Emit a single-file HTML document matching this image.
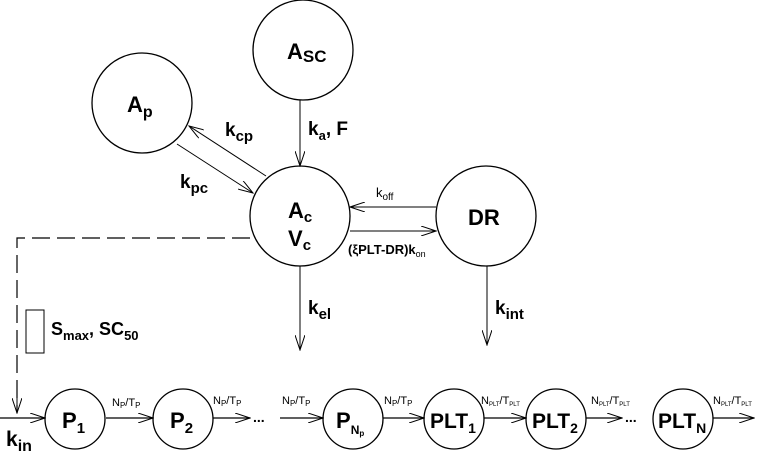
<!DOCTYPE html>
<html><head><style>
html,body{margin:0;padding:0;background:#fff;}
svg{display:block;font-family:"Liberation Sans",Arial,sans-serif;font-weight:bold;}
</style></head><body>
<svg width="761" height="456" viewBox="0 0 761 456" xmlns="http://www.w3.org/2000/svg">
<defs>
<marker id="a" markerWidth="16" markerHeight="10" refX="15" refY="5" orient="auto" markerUnits="userSpaceOnUse">
<path d="M0,0 L15,5 L0,10" fill="none" stroke="#000" stroke-width="1"/>
</marker>
</defs>
<g fill="none" stroke="#000" stroke-width="1.3">
<circle cx="303" cy="50" r="50"/>
<circle cx="142" cy="103" r="50"/>
<circle cx="300" cy="216" r="50"/>
<circle cx="486" cy="216" r="50"/>
<circle cx="75" cy="419" r="30"/>
<circle cx="183" cy="419" r="30"/>
<circle cx="353" cy="419" r="30"/>
<circle cx="454" cy="419" r="30"/>
<circle cx="556" cy="419" r="30"/>
<circle cx="683" cy="419" r="30"/>
<rect x="26" y="310" width="18" height="43" stroke-width="1"/>
</g>
<g stroke="#000" stroke-width="1" fill="none">
<line x1="300" y1="100" x2="300" y2="166" marker-end="url(#a)"/>
<line x1="266" y1="176" x2="189" y2="126" marker-end="url(#a)"/>
<line x1="177" y1="144" x2="253" y2="193" marker-end="url(#a)"/>
<line x1="436" y1="207" x2="350" y2="207" marker-end="url(#a)"/>
<line x1="350" y1="231" x2="436" y2="231" marker-end="url(#a)"/>
<line x1="300" y1="266" x2="300" y2="350" marker-end="url(#a)"/>
<line x1="487" y1="266" x2="487" y2="345" marker-end="url(#a)"/>
<polyline points="250,238 17,238 17,413" stroke-dasharray="18,7" stroke-width="1.2"/>
<line x1="17" y1="395" x2="17" y2="413" marker-end="url(#a)"/>
<line x1="0" y1="418" x2="45" y2="418" marker-end="url(#a)" stroke-width="1.3"/>
<line x1="106" y1="418" x2="153" y2="418" marker-end="url(#a)" stroke-width="1.3"/>
<line x1="213" y1="418" x2="250" y2="418" marker-end="url(#a)" stroke-width="1.3"/>
<line x1="280" y1="418" x2="323" y2="418" marker-end="url(#a)" stroke-width="1.3"/>
<line x1="383" y1="418" x2="424" y2="418" marker-end="url(#a)" stroke-width="1.3"/>
<line x1="484" y1="418" x2="526" y2="418" marker-end="url(#a)" stroke-width="1.3"/>
<line x1="586" y1="418" x2="622" y2="418" marker-end="url(#a)" stroke-width="1.3"/>
<line x1="713" y1="418" x2="754" y2="418" marker-end="url(#a)" stroke-width="1.3"/>
</g>
<g fill="#000">
<text x="287" y="59" font-size="22">A<tspan font-size="17" dy="3">SC</tspan></text>
<text x="127" y="112" font-size="22">A<tspan font-size="16" dy="5">p</tspan></text>
<text x="288" y="218" font-size="22">A<tspan font-size="15" dy="4">c</tspan></text>
<text x="288" y="246" font-size="22">V<tspan font-size="15" dy="4">c</tspan></text>
<text x="468" y="225" font-size="22">DR</text>
<text x="308" y="135" font-size="19">k<tspan font-size="13" dy="5">a</tspan><tspan dy="-5">, F</tspan></text>
<text x="225" y="136" font-size="19">k<tspan font-size="15" dy="5">cp</tspan></text>
<text x="180" y="188" font-size="19">k<tspan font-size="15" dy="5">pc</tspan></text>
<text x="376" y="197" font-size="13" font-weight="normal">k<tspan font-size="10" dy="3">off</tspan></text>
<text x="348" y="254" font-size="13">(ξPLT-DR)k<tspan font-size="9" dy="3" font-weight="normal">on</tspan></text>
<text x="308" y="314" font-size="19">k<tspan font-size="15" dy="5">el</tspan></text>
<text x="495" y="314" font-size="19">k<tspan font-size="15" dy="5">int</tspan></text>
<text x="51" y="335" font-size="18">S<tspan font-size="13" dy="5">max</tspan><tspan dy="-5">, SC</tspan><tspan font-size="13" dy="5">50</tspan></text>
<text x="6" y="446" font-size="21">k<tspan font-size="16" dy="5">in</tspan></text>
<text x="62" y="428" font-size="22">P<tspan font-size="15" dy="5">1</tspan></text>
<text x="170" y="428" font-size="22">P<tspan font-size="15" dy="5">2</tspan></text>
<text x="336" y="428" font-size="22">P<tspan font-size="12" dy="6">N</tspan><tspan font-size="8" dy="2">p</tspan></text>
<text x="430" y="428" font-size="21">PLT<tspan font-size="14" dy="5">1</tspan></text>
<text x="532" y="428" font-size="21">PLT<tspan font-size="14" dy="5">2</tspan></text>
<text x="658" y="428" font-size="21">PLT<tspan font-size="14" dy="5">N</tspan></text>
<text x="253" y="422" font-size="14">...</text>
<text x="625" y="422" font-size="14">...</text>
<g font-size="11" font-weight="normal">
<text x="112" y="406">N<tspan font-size="8" dy="2">P</tspan><tspan dy="-2">/T</tspan><tspan font-size="8" dy="2">P</tspan></text>
<text x="213" y="404">N<tspan font-size="8" dy="2">P</tspan><tspan dy="-2">/T</tspan><tspan font-size="8" dy="2">P</tspan></text>
<text x="282" y="404">N<tspan font-size="8" dy="2">P</tspan><tspan dy="-2">/T</tspan><tspan font-size="8" dy="2">P</tspan></text>
<text x="384" y="404">N<tspan font-size="8" dy="2">P</tspan><tspan dy="-2">/T</tspan><tspan font-size="8" dy="2">P</tspan></text>
<text x="481" y="404">N<tspan font-size="6" dy="2">PLT</tspan><tspan dy="-2">/T</tspan><tspan font-size="6" dy="2">PLT</tspan></text>
<text x="591" y="404">N<tspan font-size="6" dy="2">PLT</tspan><tspan dy="-2">/T</tspan><tspan font-size="6" dy="2">PLT</tspan></text>
<text x="713" y="404">N<tspan font-size="6" dy="2">PLT</tspan><tspan dy="-2">/T</tspan><tspan font-size="6" dy="2">PLT</tspan></text>
</g>
</g>
</svg>
</body></html>
